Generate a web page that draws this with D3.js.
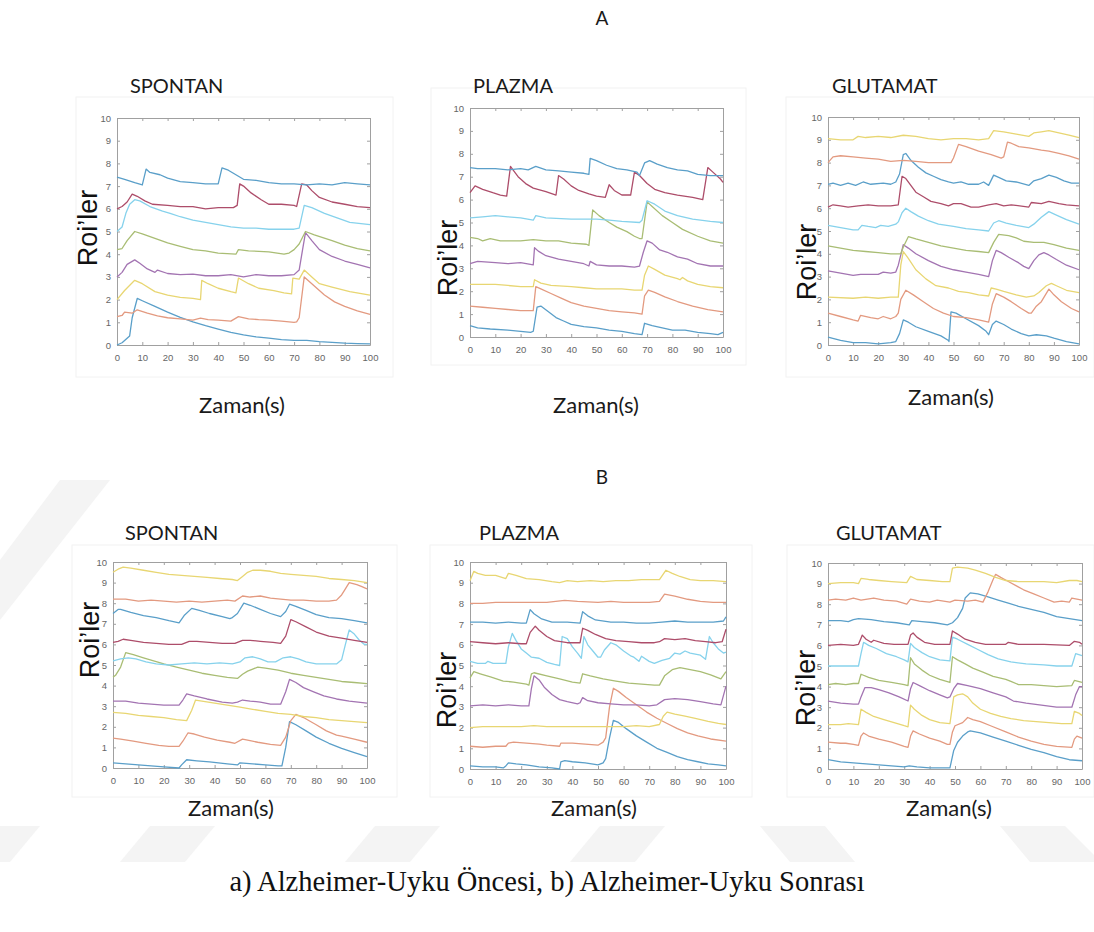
<!DOCTYPE html>
<html lang="tr">
<head>
<meta charset="utf-8">
<title>Roi'ler - Zaman(s)</title>
<script src="https://d3js.org/d3.v7.min.js"></script>
<style>
  body { margin: 0; background: #fff; }
  .tick-label { font-family: "Liberation Sans", Arial, sans-serif; font-size: 9.5px; fill: #666; }
  .panel-title { font-family: Lato, "Open Sans", sans-serif; font-weight: 400; font-size: 20px; fill: #1a1a1a; }
  .x-label { font-family: Lato, "Open Sans", sans-serif; font-weight: 400; font-size: 22px; fill: #1a1a1a; }
  .y-label { font-family: "Liberation Sans", Arial, sans-serif; font-size: 27px; fill: #111; }
  .group-label { font-family: Lato, "Open Sans", sans-serif; font-weight: 400; font-size: 19px; fill: #1a1a1a; }
  .caption { font-family: "Liberation Serif", "Times New Roman", serif; font-size: 28.5px; fill: #111; }
  .trace { fill: none; stroke-width: 1.3; stroke-linejoin: round; }
</style>
</head>
<body>
<div id="chart"></div>
<script>
var w = 1094, h = 932;

// colours of the traces, bottom trace first (MATLAB order, faded)
var traceColors = ["#5a9fc9", "#e39a80", "#e8d672", "#a374b2", "#a9bd74", "#86d2ec", "#ad4d6a", "#5a9fc9", "#e39a80", "#e8d672"];
var xTicks = [0, 10, 20, 30, 40, 50, 60, 70, 80, 90, 100];
var yTicks = [0, 1, 2, 3, 4, 5, 6, 7, 8, 9, 10];
var titles = ["SPONTAN", "PLAZMA", "GLUTAMAT"];
var groupNames = ["A", "B"];
var xLabel = "Zaman(s)";
var yLabel = "Roi\u2019ler";
var caption = "a) Alzheimer-Uyku \u00d6ncesi, b) Alzheimer-Uyku Sonras\u0131";

// each trace: t, value, t, value, ...
var aSpontan = [
  [0,0, 2,0.1, 4,0.3, 5,0.4, 6,1.2, 8,2.05, 10,1.95, 15,1.7, 20,1.45, 25,1.22, 30,1.02, 35,0.85, 40,0.7, 45,0.56, 50,0.45, 55,0.36, 60,0.3, 65,0.24, 70,0.2, 75,0.2, 80,0.15, 85,0.12, 90,0.08, 95,0.06, 100,0.05],
  [0,1.25, 2,1.3, 3,1.45, 6,1.4, 8,1.55, 12,1.4, 16,1.28, 20,1.2, 25,1.15, 30,1.1, 33,1.18, 36,1.12, 40,1.1, 45,1.05, 48,1.25, 52,1.15, 56,1.12, 60,1.1, 65,1.05, 70,1.0, 71,1.02, 72,1.2, 74,3.0, 78,2.6, 82,2.2, 86,1.9, 90,1.7, 95,1.5, 100,1.35],
  [0,2.0, 3,2.4, 7,2.85, 10,2.7, 15,2.35, 20,2.2, 25,2.1, 30,2.05, 33,2.0, 33.5,2.85, 36,2.7, 40,2.5, 45,2.35, 47,2.3, 48,2.95, 52,2.7, 56,2.5, 62,2.4, 66,2.3, 69,2.25, 69.5,2.95, 72,2.9, 74,3.3, 77,3.0, 80,2.7, 85,2.55, 92,2.35, 100,2.2],
  [0,3.0, 2,3.2, 4,3.55, 7,3.75, 9,3.6, 12,3.35, 15,3.2, 16,3.3, 20,3.15, 25,3.1, 30,3.12, 35,3.05, 40,3.05, 45,3.1, 50,3.0, 55,3.1, 60,3.05, 65,3.05, 70,3.1, 72,3.3, 73.5,4.3, 74.5,4.95, 77,4.6, 80,4.2, 85,3.9, 90,3.7, 95,3.55, 100,3.4],
  [0,4.2, 2,4.25, 4,4.6, 7,5.0, 10,4.9, 15,4.7, 20,4.5, 25,4.35, 30,4.2, 35,4.15, 40,4.05, 47,4.0, 48,4.2, 52,4.15, 60,4.1, 66,4.0, 68,4.05, 70,4.2, 72,4.45, 74.5,5.0, 78,4.85, 85,4.6, 90,4.4, 95,4.25, 100,4.15],
  [0,5.0, 2,5.2, 3.5,5.8, 5,6.2, 7,6.4, 9,6.35, 13,6.1, 18,5.9, 21,5.8, 25,5.65, 30,5.5, 35,5.4, 40,5.3, 45,5.2, 50,5.15, 55,5.15, 60,5.1, 65,5.1, 70,5.1, 72,5.15, 74,6.15, 77,6.05, 82,5.8, 87,5.6, 92,5.4, 100,5.3],
  [0,6.0, 2,6.1, 4,6.3, 6,6.65, 8,6.55, 11,6.35, 14,6.2, 20,6.15, 25,6.1, 30,6.1, 35,6.0, 40,6.05, 46,6.05, 47.5,6.15, 48.5,7.1, 50,7.0, 53,6.7, 57,6.4, 60,6.2, 65,6.2, 70,6.15, 71,6.1, 73,7.1, 75,7.05, 77,6.8, 80,6.5, 85,6.3, 90,6.2, 95,6.1, 100,6.05],
  [0,7.4, 3,7.3, 7,7.15, 10,7.05, 11.5,7.75, 13,7.6, 17,7.5, 20,7.35, 25,7.2, 30,7.15, 35,7.1, 40,7.1, 41.5,7.8, 44,7.7, 47,7.5, 50,7.3, 55,7.25, 60,7.15, 65,7.1, 70,7.1, 75,7.05, 80,7.1, 85,7.05, 90,7.15, 95,7.1, 100,7.05]
];

var aPlazma = [
  [0,0.5, 3,0.4, 8,0.35, 15,0.3, 20,0.25, 24,0.2, 25,0.25, 26.5,1.3, 28,1.35, 31,1.1, 34,0.85, 37,0.7, 40,0.55, 45,0.45, 50,0.4, 55,0.3, 60,0.25, 65,0.15, 68,0.1, 69,0.6, 72,0.5, 76,0.4, 80,0.3, 85,0.3, 90,0.2, 95,0.15, 98,0.1, 100,0.2],
  [0,1.35, 5,1.3, 10,1.25, 15,1.2, 20,1.15, 25,1.15, 26,2.2, 28,2.1, 32,1.9, 36,1.7, 40,1.5, 45,1.35, 50,1.25, 55,1.15, 60,1.1, 65,1.05, 68,1.0, 69,1.8, 70.5,2.05, 73,1.95, 77,1.75, 82,1.55, 88,1.35, 94,1.2, 100,1.1],
  [0,2.3, 10,2.3, 15,2.25, 20,2.2, 25,2.2, 25.5,2.5, 28,2.35, 32,2.25, 40,2.2, 45,2.15, 50,2.1, 60,2.1, 65,2.05, 68,2.05, 69,2.7, 70.5,3.1, 73,2.95, 77,2.7, 82,2.55, 83,2.5, 84,2.6, 86,2.45, 90,2.3, 95,2.2, 100,2.15],
  [0,3.2, 3,3.3, 10,3.25, 15,3.2, 20,3.25, 25,3.15, 25.5,3.9, 27,3.75, 30,3.55, 35,3.4, 40,3.3, 45,3.2, 47,3.1, 47.5,3.3, 50,3.15, 55,3.1, 60,3.1, 65,3.05, 67,3.1, 68.5,3.7, 70,4.2, 72,4.1, 75,3.8, 78,3.7, 82,3.5, 86,3.4, 90,3.2, 95,3.1, 100,3.1],
  [0,4.35, 3,4.3, 5,4.2, 8,4.3, 12,4.2, 20,4.2, 25,4.25, 30,4.2, 35,4.2, 40,4.1, 46,4.05, 47,4.0, 48.5,5.55, 51,5.3, 55,5.0, 58,4.8, 62,4.6, 65,4.4, 67,4.3, 68,4.3, 70,5.9, 72,5.7, 76,5.3, 80,5.0, 84,4.7, 90,4.4, 95,4.2, 100,4.1],
  [0,5.2, 5,5.25, 10,5.3, 15,5.25, 20,5.2, 25,5.1, 26,5.3, 30,5.2, 40,5.15, 50,5.15, 55,5.1, 60,5.05, 67,5.0, 68,5.1, 70,5.95, 73,5.8, 77,5.5, 82,5.3, 88,5.15, 95,5.05, 100,5.0],
  [0,6.3, 2,6.6, 5,6.45, 9,6.3, 12,6.2, 14.5,6.15, 16,7.45, 17,7.3, 19,7.0, 22,6.7, 25,6.5, 30,6.35, 34,6.2, 35,7.05, 37,6.9, 40,6.6, 43,6.4, 47,6.25, 50,6.15, 53.5,6.1, 55,6.65, 57,6.4, 60,6.2, 63.5,6.2, 65,7.2, 67,7.05, 70,6.7, 73,6.45, 77,6.3, 82,6.2, 88,6.1, 92,6.0, 94,7.4, 96,7.2, 99,6.9, 100,6.75],
  [0,7.4, 3,7.35, 10,7.35, 15,7.3, 20,7.35, 23,7.3, 26,7.45, 30,7.3, 35,7.25, 40,7.2, 45,7.15, 47,7.1, 47.5,7.8, 50,7.7, 54,7.5, 58,7.35, 62,7.3, 66,7.2, 67,7.05, 69,7.6, 71,7.7, 74,7.55, 78,7.4, 82,7.3, 86,7.25, 90,7.1, 95,7.05, 100,7.05]
];

var aGlutamat = [
  [0,0.35, 5,0.2, 10,0.1, 15,0.1, 20,0.05, 25,0.1, 27,0.15, 28.5,0.5, 30,1.1, 32,1.0, 35,0.8, 40,0.6, 45,0.4, 48,0.2, 48.2,0.15, 49,1.45, 51,1.4, 55,1.15, 60,0.85, 63,0.6, 64,0.45, 65.5,0.9, 67,1.05, 70,0.9, 73,0.7, 77,0.5, 80,0.4, 83,0.45, 87,0.4, 90,0.3, 95,0.15, 100,0.05],
  [0,1.4, 5,1.25, 10,1.1, 12,1.05, 13,1.3, 17,1.2, 20,1.15, 22,1.25, 25,1.15, 27,1.25, 28,1.4, 29,2.0, 31,2.4, 34,2.2, 38,1.9, 42,1.6, 46,1.4, 50,1.25, 55,1.2, 60,1.1, 64,1.0, 65.5,1.8, 67,2.25, 70,2.1, 73,1.9, 77,1.6, 80,1.4, 81,1.4, 83,1.7, 85,1.9, 88,2.45, 90,2.2, 93,1.9, 97,1.6, 100,1.45],
  [0,2.1, 10,2.05, 15,2.1, 20,2.05, 25,2.1, 28,2.1, 29,3.5, 30,4.1, 32,3.8, 35,3.3, 39,2.9, 43,2.6, 48,2.5, 52,2.35, 56,2.3, 60,2.2, 64,2.15, 65,2.5, 67,2.45, 70,2.35, 75,2.2, 79,2.1, 82,2.15, 84,2.3, 87,2.6, 89,2.7, 91,2.6, 95,2.4, 100,2.3],
  [0,3.25, 5,3.15, 10,3.05, 13,3.1, 20,3.1, 22,3.2, 25,3.15, 27,3.2, 28,3.5, 30,4.4, 32,4.25, 35,4.0, 40,3.7, 45,3.45, 50,3.3, 55,3.2, 60,3.1, 64,3.0, 65.5,3.7, 67,4.15, 69,4.05, 72,3.85, 76,3.6, 78,3.45, 80,3.35, 82,3.7, 84,3.95, 86,4.05, 88,3.95, 91,3.75, 95,3.5, 100,3.3],
  [0,4.35, 5,4.25, 10,4.15, 15,4.1, 20,4.05, 25,4.0, 29,4.0, 30,4.3, 32,4.75, 35,4.65, 40,4.5, 45,4.35, 50,4.25, 55,4.15, 60,4.1, 64,4.05, 66,4.5, 68,4.85, 72,4.8, 75,4.7, 78,4.55, 82,4.5, 86,4.5, 90,4.4, 95,4.25, 100,4.15],
  [0,5.25, 5,5.15, 10,5.05, 12,5.05, 13.5,5.25, 16,5.2, 19,5.15, 21,5.25, 24,5.2, 27,5.3, 28,5.4, 29.5,5.8, 31,6.0, 33,5.85, 36,5.65, 40,5.45, 44,5.3, 50,5.2, 55,5.1, 60,5.05, 64,5.0, 66,5.35, 68,5.45, 71,5.35, 75,5.25, 80,5.15, 82,5.3, 85,5.6, 88,5.85, 91,5.7, 95,5.5, 100,5.3],
  [0,6.05, 2,6.15, 5,6.1, 8,6.05, 12,6.1, 16,6.15, 20,6.1, 25,6.1, 28,6.15, 29.5,7.4, 31,7.3, 33,7.0, 35,6.7, 38,6.5, 41,6.3, 45,6.2, 48,6.1, 50,6.2, 53,6.2, 57,6.05, 60,6.05, 64,6.15, 67,6.2, 70,6.1, 73,6.15, 80,6.05, 81,6.25, 85,6.2, 88,6.3, 92,6.2, 95,6.15, 100,6.1],
  [0,7.05, 2,7.1, 5,7.0, 8,7.1, 11,7.0, 14,7.15, 17,7.05, 22,7.1, 25,7.05, 27,7.15, 28.5,7.5, 30,8.35, 31,8.4, 33,8.1, 36,7.8, 39,7.55, 42,7.4, 45,7.25, 48,7.15, 50,7.1, 53,7.15, 56,7.05, 60,7.05, 62,7.15, 64,7.0, 66,7.45, 68,7.35, 71,7.2, 75,7.15, 80,7.0, 82,7.2, 85,7.3, 88,7.45, 91,7.35, 94,7.2, 97,7.1, 100,7.1],
  [0,8.0, 2,8.25, 5,8.3, 10,8.25, 15,8.2, 20,8.15, 25,8.05, 30,8.1, 35,8.05, 40,8.0, 45,8.0, 49,8.0, 50,8.2, 52,8.8, 55,8.7, 60,8.5, 65,8.35, 69,8.2, 70,8.25, 71.5,8.9, 73,8.85, 76,8.7, 80,8.65, 85,8.55, 88,8.5, 92,8.4, 96,8.3, 100,8.15],
  [0,9.05, 5,9.0, 10,9.0, 12,9.15, 15,9.1, 20,9.15, 25,9.1, 30,9.2, 35,9.15, 40,9.05, 45,9.0, 50,9.05, 55,9.05, 60,9.0, 64,9.05, 66,9.4, 70,9.35, 75,9.25, 80,9.15, 82,9.3, 85,9.35, 88,9.4, 92,9.3, 96,9.2, 100,9.1]
];

var bSpontan = [
  [0,0.25, 5,0.2, 10,0.15, 15,0.1, 20,0.05, 26,0.0, 27,0.15, 29,0.4, 33,0.35, 38,0.3, 45,0.2, 49,0.15, 50,0.25, 55,0.2, 60,0.15, 65,0.1, 66.5,0.1, 68,1.0, 69.5,2.25, 72,2.1, 76,1.8, 80,1.5, 85,1.2, 90,0.95, 95,0.75, 100,0.55],
  [0,1.45, 3,1.4, 8,1.3, 13,1.2, 18,1.1, 22,1.05, 26,1.05, 27.5,1.3, 29.5,1.7, 32,1.65, 36,1.5, 41,1.35, 46,1.25, 48,1.2, 51,1.4, 53,1.35, 57,1.25, 62,1.15, 66,1.1, 68,1.5, 70,2.3, 72,2.6, 75,2.45, 80,2.1, 84,1.8, 88,1.6, 90,1.55, 95,1.4, 100,1.25],
  [0,2.7, 5,2.65, 10,2.55, 15,2.5, 20,2.45, 25,2.35, 29,2.3, 31,2.8, 32.5,3.3, 35,3.25, 40,3.15, 45,3.05, 50,2.95, 55,2.85, 60,2.75, 65,2.65, 70,2.6, 75,2.5, 80,2.45, 85,2.35, 90,2.3, 95,2.25, 100,2.2],
  [0,3.25, 5,3.25, 10,3.15, 15,3.1, 20,3.05, 26,3.05, 27.5,3.3, 29,3.6, 32,3.5, 37,3.35, 43,3.2, 47,3.15, 49,3.2, 51,3.3, 54,3.25, 58,3.2, 62,3.1, 66,3.1, 68,3.7, 69.5,4.3, 72,4.15, 75,3.9, 79,3.7, 83,3.5, 88,3.35, 93,3.25, 100,3.15],
  [0,4.4, 1,4.5, 3,4.9, 5,5.6, 8,5.5, 12,5.35, 16,5.2, 20,5.05, 25,4.9, 30,4.75, 35,4.6, 40,4.5, 45,4.4, 49,4.35, 51,4.55, 53,4.7, 55,4.8, 57,4.9, 60,4.85, 65,4.75, 70,4.6, 75,4.5, 80,4.4, 85,4.3, 90,4.2, 95,4.15, 100,4.1],
  [0,5.2, 3,5.3, 6,5.35, 9,5.3, 13,5.15, 17,5.05, 22,5.0, 27,5.05, 32,5.1, 37,5.05, 42,5.1, 47,5.05, 50,5.15, 52,5.35, 55,5.4, 58,5.3, 61,5.15, 64,5.15, 67,5.35, 70,5.4, 73,5.3, 76,5.15, 80,5.05, 85,5.05, 88,5.05, 90,5.25, 91.5,6.0, 93,6.7, 95,6.5, 97,6.2, 99,6.0, 100,6.0],
  [0,6.1, 2,6.15, 4,6.25, 7,6.2, 12,6.1, 17,6.05, 22,6.0, 27,6.0, 30,6.15, 33,6.15, 38,6.1, 43,6.05, 48,6.05, 51,6.2, 54,6.2, 58,6.15, 63,6.1, 66,6.05, 68,6.4, 70,7.2, 72,7.1, 76,6.85, 80,6.6, 85,6.4, 90,6.3, 95,6.2, 100,6.1],
  [0,7.5, 2,7.7, 3,7.7, 7,7.55, 12,7.4, 17,7.3, 22,7.15, 26,7.05, 28,7.4, 31,7.75, 34,7.65, 38,7.5, 43,7.35, 46,7.25, 47,7.3, 49,7.5, 51.5,8.0, 54,7.9, 58,7.7, 62,7.5, 66,7.35, 68,7.6, 69.5,7.95, 72,7.85, 76,7.65, 80,7.45, 85,7.3, 90,7.25, 95,7.15, 100,7.05],
  [0,8.2, 5,8.2, 10,8.1, 15,8.15, 20,8.1, 25,8.05, 30,8.1, 35,8.05, 40,8.1, 45,8.15, 48,8.1, 51,8.35, 54,8.3, 58,8.35, 62,8.25, 66,8.2, 70,8.15, 75,8.15, 80,8.1, 85,8.1, 88,8.15, 90,8.4, 91,8.6, 93,9.0, 96,8.9, 98,8.8, 100,8.7],
  [0,9.5, 2,9.65, 4,9.75, 7,9.7, 12,9.6, 17,9.5, 22,9.4, 27,9.35, 32,9.3, 37,9.25, 42,9.2, 47,9.15, 49,9.1, 51,9.3, 53,9.5, 55,9.6, 58,9.6, 62,9.55, 66,9.45, 70,9.4, 75,9.35, 80,9.3, 85,9.2, 90,9.15, 95,9.1, 100,9.0]
];

var bPlazma = [
  [0,0.15, 5,0.1, 10,0.1, 13,0.05, 14,0.15, 15,0.3, 18,0.25, 22,0.2, 27,0.1, 32,0.05, 35,0.0, 35.5,0.35, 37,0.4, 40,0.35, 45,0.3, 50,0.2, 52,0.3, 53,0.5, 54.5,1.5, 56,2.35, 58,2.25, 61,1.95, 65,1.6, 69,1.3, 73,1.0, 77,0.8, 81,0.6, 85,0.45, 89,0.35, 93,0.25, 97,0.2, 100,0.15],
  [0,1.1, 5,1.05, 10,1.1, 14,1.1, 15,1.25, 17,1.3, 22,1.25, 27,1.2, 30,1.15, 35,1.1, 35.5,1.25, 40,1.25, 45,1.2, 50,1.15, 52,1.3, 53,1.5, 54.5,3.0, 56,3.9, 58,3.75, 61,3.45, 65,3.1, 69,2.75, 73,2.45, 77,2.2, 81,1.95, 85,1.75, 89,1.6, 94,1.45, 100,1.35],
  [0,2.0, 5,2.05, 10,2.05, 20,2.05, 25,2.1, 30,2.05, 40,2.05, 50,2.05, 60,2.05, 65,2.1, 70,2.05, 74,2.15, 75.5,2.55, 77,2.75, 80,2.65, 84,2.55, 88,2.45, 93,2.3, 97,2.2, 100,2.15],
  [0,3.05, 5,3.1, 10,3.05, 15,3.1, 20,3.05, 23,3.05, 24,3.9, 25,4.5, 27,4.3, 29,3.95, 32,3.6, 35,3.35, 38,3.25, 42,3.15, 43,3.2, 44,3.45, 46,3.3, 50,3.2, 55,3.15, 60,3.1, 65,3.1, 70,3.05, 73,3.1, 76,3.35, 80,3.4, 85,3.35, 90,3.25, 95,3.15, 98,3.1, 100,4.0],
  [0,4.4, 1.5,4.7, 4,4.6, 8,4.45, 13,4.25, 17,4.2, 22,4.1, 23,4.05, 24,4.6, 25,4.65, 30,4.5, 35,4.35, 40,4.2, 43,4.15, 44,4.6, 47,4.5, 52,4.35, 57,4.25, 62,4.15, 67,4.1, 72,4.05, 74,4.05, 76,4.5, 79,4.8, 82,4.9, 86,4.8, 90,4.7, 94,4.55, 97,4.4, 98,4.35, 100,4.7],
  [0,5.2, 3,5.1, 6,5.1, 7,5.2, 9,5.1, 14,5.1, 15,5.9, 16.5,6.55, 18,6.2, 20,5.8, 22,5.6, 24,5.4, 27,5.35, 30,5.15, 33,5.05, 35,5.0, 36,6.4, 38,6.3, 40,5.9, 42,5.6, 43.5,5.35, 44.5,6.4, 46,6.0, 48,5.7, 50,5.4, 51,5.4, 52.5,5.75, 55,6.1, 57,6.0, 60,5.7, 63,5.45, 64,5.4, 66,5.2, 67,5.45, 70,5.2, 72,5.1, 75,5.25, 78,5.35, 80,5.6, 82,5.55, 84,5.7, 86,5.6, 90,5.5, 92,5.3, 93.5,6.4, 95,6.1, 97,5.8, 99,5.6, 100,5.65],
  [0,6.15, 5,6.1, 10,6.05, 15,6.1, 20,6.05, 22,6.05, 23.5,6.6, 25.5,6.9, 27,6.7, 30,6.4, 33,6.2, 38,6.1, 43,6.1, 44,6.8, 46,6.7, 49,6.5, 53,6.3, 57,6.2, 62,6.15, 67,6.1, 72,6.1, 74,6.15, 76,6.3, 80,6.25, 84,6.3, 88,6.2, 92,6.15, 96,6.1, 98.5,6.15, 100,6.75],
  [0,7.1, 5,7.1, 10,7.05, 15,7.1, 20,7.05, 22,7.05, 23.5,7.7, 25,7.5, 28,7.25, 32,7.1, 38,7.1, 43,7.05, 44,7.6, 46,7.4, 49,7.2, 55,7.1, 60,7.1, 65,7.05, 70,7.05, 75,7.1, 80,7.15, 85,7.1, 90,7.1, 95,7.1, 99,7.15, 100,7.35],
  [0,8.0, 5,8.0, 10,8.05, 20,8.05, 30,8.05, 37,8.15, 42,8.1, 50,8.05, 55,8.1, 60,8.05, 70,8.05, 74,8.1, 76,8.45, 80,8.35, 85,8.2, 90,8.1, 95,8.05, 100,8.05],
  [0,9.1, 1.5,9.55, 3,9.45, 6,9.35, 10,9.35, 14,9.2, 15,9.45, 18,9.35, 22,9.2, 27,9.15, 32,9.05, 35,9.0, 38,9.1, 42,9.05, 47,9.1, 52,9.05, 57,9.1, 62,9.1, 67,9.15, 72,9.15, 74,9.15, 76.5,9.6, 79,9.45, 82,9.3, 86,9.15, 90,9.1, 95,9.1, 100,9.05]
];

var bGlutamat = [
  [0,0.45, 5,0.35, 10,0.3, 15,0.25, 20,0.2, 25,0.15, 30,0.1, 32,0.15, 35,0.1, 40,0.05, 45,0.05, 48,0.05, 49.5,0.9, 51,1.3, 53,1.6, 55,1.8, 56,1.85, 60,1.75, 65,1.55, 70,1.35, 75,1.15, 80,0.95, 85,0.8, 90,0.6, 95,0.45, 100,0.4],
  [0,1.3, 5,1.25, 7,1.25, 10,1.2, 12,1.15, 13,1.6, 14,1.75, 16,1.6, 20,1.45, 25,1.3, 30,1.1, 31.5,1.05, 32.5,1.6, 33.5,1.85, 36,1.7, 40,1.5, 44,1.35, 47,1.2, 48,1.2, 49,1.8, 50,2.1, 53,2.25, 55,2.5, 57,2.4, 60,2.3, 64,2.1, 70,1.8, 75,1.55, 80,1.35, 85,1.2, 90,1.1, 96,1.05, 97,1.45, 98,1.6, 100,1.5],
  [0,2.15, 5,2.15, 8,2.2, 12,2.15, 13,2.9, 15,2.75, 18,2.55, 22,2.4, 26,2.25, 30,2.1, 31.5,2.05, 32.5,3.1, 34,2.9, 37,2.6, 40,2.4, 44,2.25, 48,2.2, 49.5,3.5, 51,3.6, 53,3.65, 55,3.5, 57,3.2, 60,2.9, 64,2.7, 68,2.55, 72,2.45, 77,2.35, 82,2.3, 87,2.25, 92,2.2, 96,2.2, 97,2.8, 99,2.7, 100,2.6],
  [0,3.3, 5,3.2, 10,3.15, 12,3.15, 13,3.5, 14.5,3.95, 17,3.95, 20,3.85, 24,3.7, 28,3.5, 31.5,3.3, 32.5,3.9, 33.5,4.2, 36,4.05, 40,3.8, 44,3.6, 47,3.45, 48,3.5, 49.5,3.9, 51,4.15, 55,4.05, 60,3.9, 65,3.7, 70,3.5, 73,3.3, 78,3.2, 84,3.1, 90,3.0, 96,3.0, 97.5,3.6, 99,4.0, 100,4.0],
  [0,4.1, 3,4.15, 7,4.1, 10,4.15, 12,4.15, 13,4.6, 16,4.45, 20,4.3, 25,4.2, 30,4.1, 31.5,4.05, 32.5,5.4, 34,5.1, 37,4.8, 40,4.55, 44,4.35, 48,4.2, 49,5.45, 51,5.3, 54,5.1, 57,4.9, 61,4.7, 65,4.5, 70,4.35, 72,4.25, 75,4.1, 80,4.1, 85,4.05, 90,4.0, 96,4.05, 97,4.3, 100,4.2],
  [0,5.0, 5,5.0, 10,5.0, 12,5.0, 13,5.6, 14,6.15, 16,6.0, 19,5.85, 23,5.6, 27,5.45, 30,5.3, 31.5,5.2, 32.5,6.1, 34,5.9, 37,5.65, 40,5.45, 44,5.3, 48,5.25, 49,6.4, 51,6.3, 55,6.05, 59,5.8, 63,5.55, 67,5.35, 72,5.2, 78,5.1, 85,5.05, 90,5.0, 96,5.0, 97.5,5.6, 100,5.5],
  [0,6.0, 5,6.05, 10,6.0, 12,6.05, 13,6.35, 13.5,6.5, 15,6.3, 17,6.15, 18,6.25, 22,6.1, 26,6.05, 31.5,6.05, 32.5,6.5, 33.5,6.6, 35,6.4, 38,6.15, 42,6.05, 48,6.05, 49,6.7, 51,6.55, 54,6.3, 58,6.15, 62,6.05, 70,6.05, 71,6.15, 75,6.05, 85,6.05, 95,6.0, 97,6.2, 99,6.15, 100,6.05],
  [0,7.2, 5,7.2, 8,7.15, 10,7.25, 12,7.3, 17,7.25, 22,7.15, 27,7.1, 32,7.0, 33,7.2, 37,7.15, 42,7.1, 47,7.0, 49,7.1, 51,7.35, 53,7.8, 54,8.3, 56,8.55, 59,8.5, 63,8.35, 67,8.2, 71,8.05, 75,7.9, 80,7.75, 85,7.6, 90,7.4, 95,7.3, 100,7.2],
  [0,8.2, 3,8.25, 7,8.2, 10,8.3, 13,8.2, 18,8.3, 22,8.2, 27,8.15, 31,8.0, 32.5,8.25, 36,8.15, 40,8.1, 43,8.2, 48,8.1, 50,8.2, 55,8.15, 58,8.2, 61,8.1, 63,8.6, 65,9.2, 66,9.45, 68,9.3, 71,9.1, 74,8.9, 77,8.7, 81,8.5, 85,8.3, 89,8.1, 92,8.15, 95,8.1, 96,8.3, 98,8.25, 100,8.2],
  [0,9.0, 5,9.05, 10,9.05, 12,9.0, 13,9.25, 16,9.2, 20,9.15, 25,9.1, 31,9.05, 32.5,9.35, 35,9.2, 40,9.15, 45,9.1, 48,9.1, 49,9.75, 51,9.8, 55,9.75, 58,9.65, 62,9.5, 66,9.3, 70,9.15, 75,9.1, 80,9.1, 85,9.1, 90,9.05, 95,9.15, 98,9.15, 100,9.1]
];

// layout of each screenshot: plot box, title, axis labels
var panels = [
  {data: aSpontan,  title: 0, box: [117, 118, 370, 345], frame: [76, 97, 393, 377],  tx: 130, ty: 93,  ylx: 97,  yly: 228, xlx: 242, xly: 413},
  {data: aPlazma,   title: 1, box: [470, 108, 723, 337], frame: [431, 88, 746, 365], tx: 473, ty: 93,  ylx: 457, yly: 258, xlx: 596, xly: 413},
  {data: aGlutamat, title: 2, box: [828, 117, 1079, 345], frame: [786, 97, 1094, 377], tx: 832, ty: 93, ylx: 816, yly: 262, xlx: 951, xly: 405},
  {data: bSpontan,  title: 0, box: [113, 562, 367, 768], frame: [72, 545, 397, 797],  tx: 125, ty: 540, ylx: 99,  yly: 640, xlx: 231, xly: 816},
  {data: bPlazma,   title: 1, box: [470, 562, 726, 769], frame: [430, 545, 752, 797], tx: 479, ty: 540, ylx: 456, yly: 690, xlx: 594, xly: 816},
  {data: bGlutamat, title: 2, box: [828, 563, 1082, 769], frame: [787, 545, 1094, 797], tx: 836, ty: 540, ylx: 815, yly: 688, xlx: 949, xly: 816}
];

var svg = d3.select("#chart").append("svg")
  .attr("width", w).attr("height", h)
  .attr("viewBox", "0 0 " + w + " " + h);

// faint watermark bands behind everything
var wm = svg.append("g").attr("fill", "#f4f4f4");
var bands = [
  [[0, 826], [40, 826], [10, 862], [0, 862]],
  [[150, 826], [215, 826], [185, 862], [120, 862]],
  [[375, 826], [440, 826], [410, 862], [345, 862]],
  [[600, 826], [665, 826], [635, 862], [570, 862]],
  [[760, 826], [825, 826], [855, 862], [790, 862]],
  [[1000, 826], [1065, 826], [1094, 855], [1094, 862], [1030, 862]],
  [[0, 560], [60, 480], [110, 480], [0, 620]]
];
wm.selectAll("polygon").data(bands).enter().append("polygon")
  .attr("points", function(d) { return d.map(function(p) { return p.join(","); }).join(" "); });

svg.append("text").attr("class", "group-label").attr("x", 602).attr("y", 25).attr("text-anchor", "middle").text(groupNames[0]);
svg.append("text").attr("class", "group-label").attr("x", 602).attr("y", 484).attr("text-anchor", "middle").text(groupNames[1]);

panels.forEach(function(p) {
  var g = svg.append("g");
  var b = p.box;

  // screenshot background
  g.append("rect")
    .attr("x", p.frame[0]).attr("y", p.frame[1])
    .attr("width", p.frame[2] - p.frame[0]).attr("height", p.frame[3] - p.frame[1])
    .attr("fill", "#fff").attr("stroke", "#f2f2f2");

  var x = d3.scaleLinear().domain([0, 100]).range([b[0], b[2]]);
  var y = d3.scaleLinear().domain([0, 10]).range([b[3], b[1]]);

  // axes, MATLAB style: ticks inside, box on all sides
  var axB = g.append("g").attr("transform", "translate(0," + b[3] + ")")
    .call(d3.axisBottom(x).tickValues(xTicks).tickSizeInner(-3).tickSizeOuter(0).tickPadding(9));
  var axL = g.append("g").attr("transform", "translate(" + b[0] + ",0)")
    .call(d3.axisLeft(y).tickValues(yTicks).tickSizeInner(-3).tickSizeOuter(0).tickPadding(6));
  var axT = g.append("g").attr("transform", "translate(0," + b[1] + ")")
    .call(d3.axisTop(x).tickValues(xTicks).tickSizeInner(-3).tickSizeOuter(0).tickFormat(""));
  var axR = g.append("g").attr("transform", "translate(" + b[2] + ",0)")
    .call(d3.axisRight(y).tickValues(yTicks).tickSizeInner(-3).tickSizeOuter(0).tickFormat(""));
  [axB, axL, axT, axR].forEach(function(a) {
    a.select(".domain").attr("stroke", "#a0a0a0");
    a.selectAll(".tick line").attr("stroke", "#a0a0a0");
    a.selectAll(".tick text").attr("class", "tick-label").attr("fill", null);
  });

  var line = d3.line()
    .x(function(d) { return x(d[0]); })
    .y(function(d) { return y(d[1]); });

  g.selectAll("path.trace")
    .data(p.data)
    .enter()
    .append("path")
    .attr("class", "trace")
    .attr("stroke", function(d, i) { return traceColors[i]; })
    .attr("d", function(d) {
      return line(d3.range(0, d.length, 2).map(function(i) { return [d[i], d[i + 1]]; }));
    });

  g.append("text").attr("class", "panel-title").attr("x", p.tx).attr("y", p.ty).text(titles[p.title]);
  g.append("text").attr("class", "x-label").attr("x", p.xlx).attr("y", p.xly).attr("text-anchor", "middle").text(xLabel);
  g.append("text").attr("class", "y-label")
    .attr("transform", "translate(" + p.ylx + "," + p.yly + ") rotate(-90)")
    .attr("text-anchor", "middle").text(yLabel);
});

svg.append("text").attr("class", "caption").attr("x", 547).attr("y", 891).attr("text-anchor", "middle").text(caption);
</script>
</body>
</html>
